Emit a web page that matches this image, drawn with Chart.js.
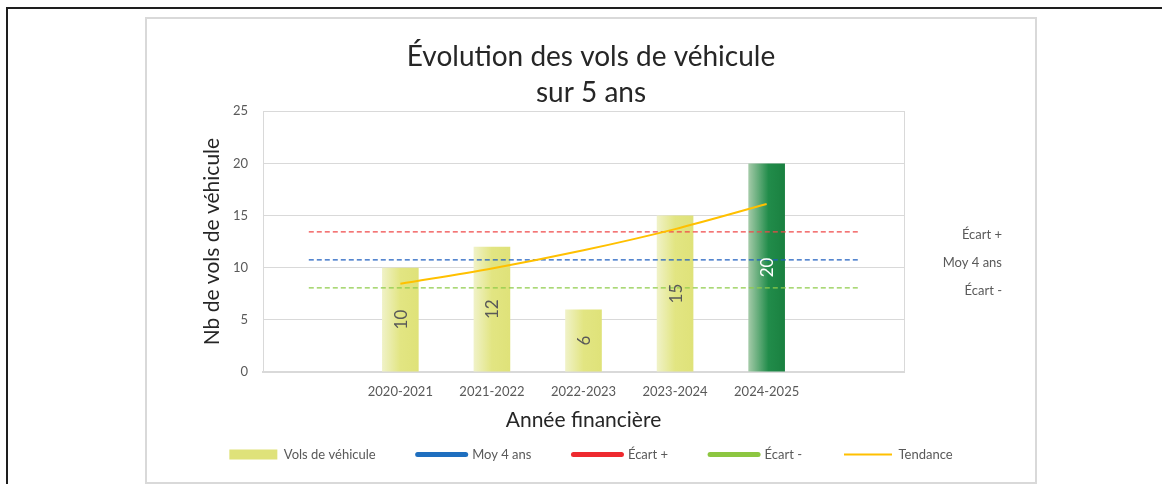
<!DOCTYPE html>
<html lang="fr">
<head>
<meta charset="utf-8">
<title>Évolution des vols de véhicule</title>
<script src="https://cdn.jsdelivr.net/npm/chart.js@4.4.1/dist/chart.umd.min.js"></script>
<style>
    html, body { margin: 0; padding: 0; background: #fff; width: 1162px; height: 484px; overflow: hidden; }
    #page { position: absolute; left: 6px; top: 7px; width: 1200px; height: 520px; border-left: 2px solid #1e1e1e; border-top: 2px solid #1e1e1e; }
    #cadre { position: absolute; left: 145px; top: 17px; width: 888px; height: 463px; border: 2px solid #d9d9d9; background: #fff; }
    canvas { display: block; }
</style>
</head>
<body>
<div id="page"></div>
<div id="cadre"><canvas id="graphique" width="888" height="463"></canvas></div>
<script>
// Données
const annees = ["", "2020-2021", "2021-2022", "2022-2023", "2023-2024", "2024-2025", ""]
const vols = [null, 10, 12, 6, 15, 20, null]
const moy4ans = [10.75, 10.75, 10.75, 10.75, 10.75, 10.75, 10.75]
const ecartPlus = [13.44, 13.44, 13.44, 13.44, 13.44, 13.44, 13.44]
const ecartMoins = [8.06, 8.06, 8.06, 8.06, 8.06, 8.06, 8.06]
const tendance = [null, 8.46, 9.93, 11.67, 13.70, 16.10, null]
const ticksGauche = [0, 5, 10, 15, 20, 25]
const ticksDroite = [13.44, 10.75, 8.06]
const etiquettesDroite = ["Écart +", "Moy 4 ans", "Écart -"]

const police = "Lato"
const gris = "#595959"

// Dégradé horizontal de chaque barre
function degradeBarre(context) {
    const chart = context.chart
    const i = context.dataIndex
    if (!chart.chartArea || i === undefined) return "#dfe27a"
    const xs = chart.scales.x
    const centre = xs.getPixelForValue(i)
    const demi = xs.width / annees.length * 0.4 / 2
    const g = chart.ctx.createLinearGradient(centre - demi, 0, centre + demi, 0)
    if (i === 5) {
        g.addColorStop(0, "#a5cba9")
        g.addColorStop(0.55, "#218c4a")
        g.addColorStop(1, "#1a8040")
    } else {
        g.addColorStop(0, "#f0f2c8")
        g.addColorStop(0.5, "#e2e582")
        g.addColorStop(1, "#dfe279")
    }
    return g
}

// Valeurs écrites dans les barres
const etiquettesBarres = {
    id: "etiquettesBarres",
    afterDatasetsDraw(chart) {
        const meta = chart.getDatasetMeta(0)
        const ctx = chart.ctx
        ctx.save()
        ctx.font = "17px " + police
        ctx.textAlign = "center"
        ctx.textBaseline = "middle"
        meta.data.forEach((barre, i) => {
            if (vols[i] === null) return
            ctx.save()
            ctx.translate(barre.x + 1, (barre.y + barre.base) / 2)
            ctx.rotate(-Math.PI / 2)
            ctx.fillStyle = i === 5 ? "#ffffff" : gris
            ctx.fillText(String(vols[i]), 0, 0)
            ctx.restore()
        })
        ctx.restore()
    }
}

// Les libellés de droite sont alignés à droite vers x = plot + 98
const axeDroite = {
    id: "axeDroite",
    afterLayout(chart) {
        const s = chart.scales.yDroite
        s.right = s.left + 98
    }
}

function legende(chart) {
    const ds = chart.data.datasets
    return [
        { text: ds[0].label, fillStyle: "#dfe27a", strokeStyle: "#dfe27a", lineWidth: 0, pointStyle: "rect", datasetIndex: 0, fontColor: gris },
        { text: ds[1].label, fillStyle: "#1f6fbf", strokeStyle: "#1f6fbf", lineWidth: 5, lineCap: "round", pointStyle: "line", datasetIndex: 1, fontColor: gris },
        { text: ds[2].label, fillStyle: "#ee2a2f", strokeStyle: "#ee2a2f", lineWidth: 5, lineCap: "round", pointStyle: "line", datasetIndex: 2, fontColor: gris },
        { text: ds[3].label, fillStyle: "#8dc641", strokeStyle: "#8dc641", lineWidth: 5, lineCap: "round", pointStyle: "line", datasetIndex: 3, fontColor: gris },
        { text: ds[4].label, fillStyle: "#ffc000", strokeStyle: "#ffc000", lineWidth: 2, pointStyle: "line", datasetIndex: 4, fontColor: gris }
    ]
}

const config = {
    data: {
        labels: annees,
        datasets: [
            { type: "bar", label: "Vols de véhicule", data: vols, backgroundColor: degradeBarre, barPercentage: 1, categoryPercentage: 0.4, order: 5 },
            { type: "line", label: "Moy 4 ans", data: moy4ans, borderColor: "#1f5fc0", borderWidth: 1.2, borderDash: [5, 3], pointRadius: 0, order: 3 },
            { type: "line", label: "Écart +", data: ecartPlus, borderColor: "#f04848", borderWidth: 1.2, borderDash: [5, 3], pointRadius: 0, order: 2 },
            { type: "line", label: "Écart -", data: ecartMoins, borderColor: "#8fcb4a", borderWidth: 1.2, borderDash: [5, 3], pointRadius: 0, order: 4 },
            { type: "line", label: "Tendance", data: tendance, borderColor: "#ffc000", borderWidth: 2, pointRadius: 0, cubicInterpolationMode: "monotone", order: 0 }
        ]
    },
    options: {
        responsive: false,
        animation: false,
        layout: { padding: { left: 0, right: 0, top: 0, bottom: 11 } },
        plugins: {
            title: {
                display: true,
                text: ["Évolution des vols de véhicule", "sur 5 ans"],
                color: "#262626",
                font: { family: police, size: 28, weight: "normal", lineHeight: 1.29 },
                padding: { top: 20, bottom: 0 }
            },
            legend: {
                position: "bottom",
                labels: {
                    usePointStyle: true,
                    pointStyleWidth: 48,
                    boxHeight: 10,
                    padding: 42,
                    color: gris,
                    font: { family: police, size: 13 },
                    generateLabels: legende
                }
            },
            tooltip: { enabled: false }
        },
        scales: {
            x: {
                offset: true,
                grid: { display: false, drawTicks: false },
                border: { color: "#d9d9d9", width: 2 },
                ticks: { color: gris, font: { family: police, size: 13 }, padding: 12, maxRotation: 0, autoSkip: false },
                title: { display: true, text: "Année financière", color: "#262626", font: { family: police, size: 21 }, padding: { top: 0, bottom: -27 } },
                afterFit: (s) => { s.height = 34 }
            },
            y: {
                min: 0,
                max: 25,
                afterBuildTicks: (s) => { s.ticks = ticksGauche.map(v => ({ value: v })) },
                ticks: { color: gris, font: { family: police, size: 13 }, padding: 15 },
                grid: { color: "#d9d9d9", lineWidth: 1, drawTicks: false },
                border: { color: "#d9d9d9", width: 1 },
                title: { display: true, text: "Nb de vols de véhicule", color: "#262626", font: { family: police, size: 21 }, padding: { top: 53, bottom: 0 } },
                afterFit: (s) => { s.width = 116 }
            },
            yDroite: {
                position: "right",
                min: 0.3,
                max: 25.3,
                afterBuildTicks: (s) => { s.ticks = ticksDroite.map(v => ({ value: v })) },
                ticks: {
                    color: gris,
                    font: { family: police, size: 13 },
                    padding: 42,
                    crossAlign: "far",
                    callback: (v) => etiquettesDroite[ticksDroite.indexOf(v)]
                },
                grid: { display: false, drawTicks: false },
                border: { color: "#d9d9d9", width: 1 },
                afterFit: (s) => { s.width = 131 }
            }
        }
    },
    plugins: [etiquettesBarres, axeDroite]
}

const graphique = new Chart(document.querySelector("#graphique"), config)
</script>
</body>
</html>
